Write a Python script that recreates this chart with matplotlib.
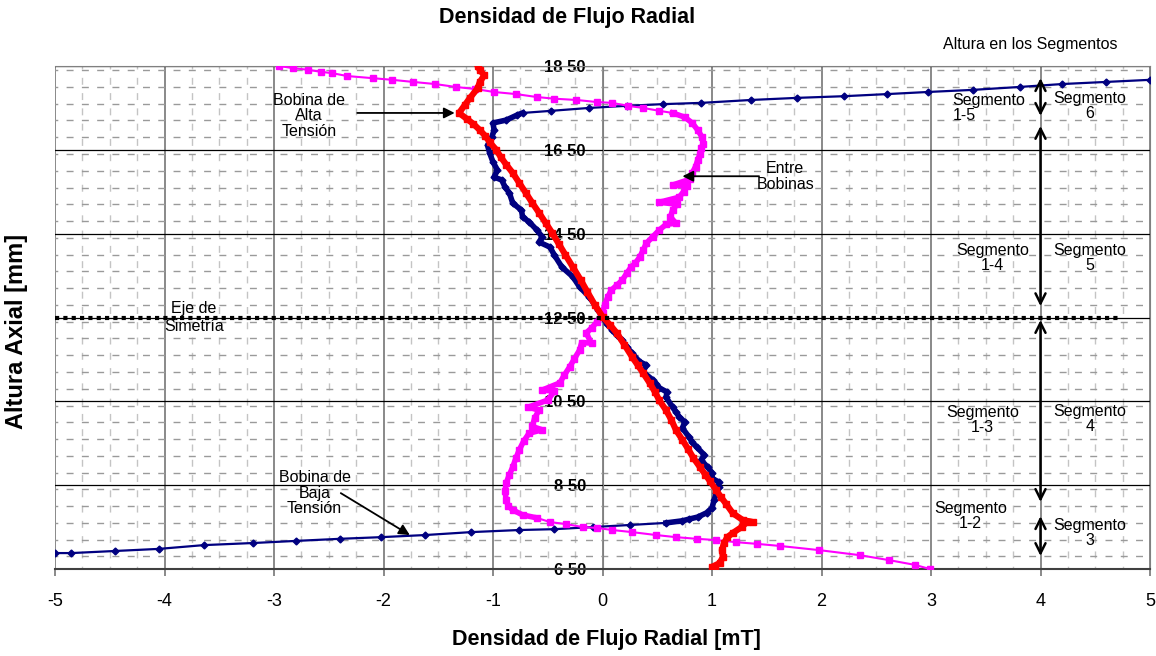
import matplotlib
matplotlib.use('Agg')
import matplotlib.pyplot as plt
from matplotlib.ticker import MultipleLocator, FixedLocator

plt.rcParams['font.family'] = ['Liberation Sans', 'DejaVu Sans']

# blue series (bottom to top)
blue_x = [-5.0, -4.85, -4.45, -4.05, -3.64, -3.19, -2.80, -2.40, -2.02, -1.62, -1.20, -0.76,
          -0.44, -0.09, 0.25, 0.58, 0.73, 0.79, 0.87, 0.95, 1.0, 1.02, 1.04, 1.06, 1.06, 1.0,
          1.0, 0.96, 0.90, 0.93, 0.86, 0.82, 0.79, 0.73, 0.75, 0.70, 0.67, 0.64, 0.58, 0.59,
          0.52, 0.49, 0.46, 0.37, 0.40, 0.34, 0.27, 0.22, 0.18, 0.13, 0.09, 0.04, 0.0, -0.04,
          -0.12, -0.21, -0.27, -0.37, -0.44, -0.48, -0.58, -0.55, -0.60, -0.67, -0.73, -0.74,
          -0.82, -0.85, -0.89, -0.92, -0.99, -0.96, -1.0, -1.03, -1.05, -1.01, -0.99, -1.0,
          -0.88, -0.78, -0.73, -0.47, -0.12, 0.22, 0.55, 0.90, 1.36, 1.78, 2.21, 2.60, 2.97,
          3.38, 3.81, 4.20, 4.60, 5.0]
blue_y = [688, 688, 693, 698, 707, 712, 717, 722, 726, 731, 738, 743,
          745, 750, 755, 760, 765, 769, 774, 784, 796, 815, 831, 845, 858, 866,
          879, 893, 910, 922, 941, 952, 965, 986, 1001, 1013, 1025, 1036, 1060, 1072,
          1082, 1092, 1101, 1120, 1137, 1144, 1165, 1180, 1196, 1208, 1220, 1235, 1250, 1268,
          1299, 1323, 1347, 1370, 1399, 1418, 1430, 1442, 1459, 1478, 1490, 1506,
          1523, 1547, 1561, 1578, 1585, 1602, 1621, 1642, 1661, 1681, 1697, 1714,
          1721, 1733, 1738, 1743, 1750, 1755, 1759, 1762, 1769, 1774, 1778, 1783, 1788,
          1793, 1800, 1807, 1812, 1817]

# red series (bottom to top)
red_x = [1.03, 1.0, 1.07, 1.10, 1.09, 1.11, 1.14, 1.19, 1.27, 1.32, 1.37, 1.28, 1.19, 1.13,
         1.08, 1.04, 0.98, 0.94, 0.89, 0.83, 0.78, 0.73, 0.67, 0.63, 0.58, 0.52, 0.48, 0.43,
         0.37, 0.32, 0.27, 0.20, 0.13, 0.07, 0.0, -0.07, -0.14, -0.20, -0.27, -0.34, -0.40,
         -0.46, -0.52, -0.58, -0.64, -0.70, -0.76, -0.82, -0.88, -0.93, -0.97, -1.03, -1.07,
         -1.12, -1.18, -1.24, -1.31, -1.26, -1.21, -1.14, -1.12, -1.08, -1.12, -1.14]
red_y = [650, 655, 664, 679, 695, 712, 726, 736, 750, 762, 762, 767, 783, 805,
         822, 838, 860, 875, 893, 915, 937, 958, 982, 1005, 1029, 1052, 1072, 1094,
         1118, 1137, 1156, 1185, 1213, 1232, 1252, 1280, 1312, 1340, 1370, 1400, 1426,
         1452, 1476, 1500, 1523, 1547, 1571, 1595, 1615, 1633, 1650, 1668, 1683,
         1697, 1712, 1724, 1738, 1756, 1774, 1797, 1812, 1828, 1840, 1850]

# magenta series (top to bottom)
mag_x = [-2.95, -2.83, -2.69, -2.57, -2.47, -2.33, -2.10, -1.92, -1.73, -1.53, -1.34, -1.16,
         -0.99, -0.79, -0.60, -0.44, -0.24, -0.05, 0.09, 0.23, 0.37, 0.52, 0.64, 0.75, 0.82,
         0.87, 0.91, 0.92, 0.90, 0.89, 0.87, 0.85, 0.82, 0.80, 0.64, 0.77, 0.74, 0.70, 0.52,
         0.68, 0.64, 0.62, 0.67, 0.58, 0.52, 0.46, 0.40, 0.37, 0.34, 0.30, 0.26, 0.22, 0.18,
         0.13, 0.08, 0.05, 0.02, 0.0, -0.05, -0.10, -0.15, -0.10, -0.19, -0.21, -0.26, -0.30,
         -0.35, -0.39, -0.55, -0.44, -0.50, -0.68, -0.58, -0.62, -0.64, -0.55, -0.67, -0.72,
         -0.76, -0.79, -0.82, -0.85, -0.88, -0.89, -0.88, -0.86, -0.82, -0.73, -0.60, -0.48,
         -0.33, -0.18, -0.05, 0.09, 0.27, 0.49, 0.67, 0.86, 1.04, 1.22, 1.41, 1.62, 1.98,
         2.35, 2.62, 2.85, 2.99]
mag_y = [1850, 1845, 1841, 1836, 1833, 1826, 1821, 1817, 1812, 1807, 1800, 1795,
         1788, 1783, 1776, 1772, 1769, 1764, 1762, 1755, 1750, 1743, 1738, 1728, 1714,
         1697, 1680, 1665, 1654, 1640, 1626, 1610, 1595, 1580, 1566, 1563, 1550, 1537, 1525,
         1520, 1506, 1490, 1475, 1472, 1459, 1443, 1427, 1410, 1394, 1380, 1370, 1355, 1339,
         1327, 1315, 1300, 1280, 1261, 1240, 1225, 1213, 1189, 1190, 1172, 1150, 1132,
         1112, 1094, 1077, 1074, 1053, 1036, 1029, 1010, 990, 982, 974, 955,
         934, 915, 893, 875, 855, 835, 815, 800, 791, 779, 772, 762,
         757, 750, 748, 743, 738, 731, 726, 722, 719, 714, 710, 705, 695,
         683, 671, 660, 650]

y_ticks = [650, 850, 1050, 1250, 1450, 1650, 1850]
y_tick_labels = ['6 50', '8 50', '10 50', '12 50', '14 50', '16 50', '18 50']
x_ticks = [-5, -4, -3, -2, -1, 0, 1, 2, 3, 4, 5]

# segment arrows at x = 4: (top, bottom)
seg_arrows = [(1821, 1731), (1707, 1277), (1244, 810), (776, 681)]
seg_labels = [
    ('Segmento\n1-5', 3.53, 1750, 'left'),
    ('Segmento\n6', 4.45, 1755, 'center'),
    ('Segmento\n1-4', 3.56, 1392, 'center'),
    ('Segmento\n5', 4.45, 1392, 'center'),
    ('Segmento\n1-3', 3.47, 1005, 'center'),
    ('Segmento\n4', 4.45, 1008, 'center'),
    ('Segmento\n1-2', 3.36, 776, 'center'),
    ('Segmento\n3', 4.45, 736, 'center'),
]

fig = plt.figure(figsize=(11.56, 6.56), dpi=100)
ax = fig.add_axes([55 / 1156, 87 / 656, 1095 / 1156, 503 / 656])

ax.set_xlim(-5, 5)
ax.set_ylim(650, 1850)

# grid
ax.xaxis.set_major_locator(FixedLocator(x_ticks))
ax.xaxis.set_minor_locator(MultipleLocator(0.25))
ax.yaxis.set_major_locator(FixedLocator(y_ticks))
ax.yaxis.set_minor_locator(MultipleLocator(40))
ax.set_axisbelow(True)
ax.grid(which='minor', axis='x', color='#c4c4c4', linestyle=(3, (5, 6)), linewidth=1.0)
ax.grid(which='minor', axis='y', color='#9a9a9a', linestyle=(3, (5, 6)), linewidth=1.0)
ax.grid(which='major', axis='x', color='#808080', linewidth=1.3)
ax.grid(which='major', axis='y', color='black', linewidth=0.9)

# curves (dense measurement stretches drawn heavier, as the overlapping markers look)
ax.plot(blue_x, blue_y, color='#000080', linewidth=1.6, marker='D', markersize=3.5, zorder=3)
ax.plot(blue_x[15:81], blue_y[15:81], color='#000080', linewidth=4, zorder=3)
ax.plot(mag_x, mag_y, color='#ff00ff', linewidth=1.5, marker='s', markersize=5, zorder=4)
ax.plot(mag_x[22:89], mag_y[22:89], color='#ff00ff', linewidth=4, zorder=4)
ax.plot(red_x, red_y, color='#ff0000', linewidth=4.5, marker='s', markersize=4, zorder=5)

# symmetry axis
ax.plot([-5, 4.72], [1250, 1250], color='black', linewidth=3, linestyle=(0, (1, 1)),
        dash_capstyle='butt', zorder=6)
ax.text(-3.73, 1250, 'Eje de\nSimetría', ha='center', va='center', fontsize=11.5, zorder=7)

# annotations
arrow_kw = dict(arrowstyle='-|>', color='black', lw=1.3, mutation_scale=16, shrinkA=0, shrinkB=0)
ax.annotate('', xy=(-1.35, 1738), xytext=(-2.24, 1738), arrowprops=arrow_kw, zorder=7)
ax.text(-2.68, 1731, 'Bobina de\nAlta\nTensión', ha='center', va='center', fontsize=11.5,
        linespacing=1.05)
ax.annotate('', xy=(0.73, 1587), xytext=(1.43, 1587), arrowprops=arrow_kw, zorder=7)
ax.text(1.67, 1587, 'Entre\nBobinas', ha='center', va='center', fontsize=11.5, linespacing=1.05)
ax.annotate('', xy=(-1.76, 731), xytext=(-2.39, 831), arrowprops=arrow_kw, zorder=7)
ax.text(-2.63, 831, 'Bobina de\nBaja\nTensión', ha='center', va='center', fontsize=11.5,
        linespacing=1.05)

for top, bottom in seg_arrows:
    ax.annotate('', xy=(4, top), xytext=(4, bottom),
                arrowprops=dict(arrowstyle='<->', color='black', lw=1.8, mutation_scale=18,
                                shrinkA=0, shrinkB=0), zorder=7)
for txt, x, y, al in seg_labels:
    ax.text(x, y, txt, ha='center', va='center', fontsize=11.5, multialignment=al,
            linespacing=1.05, zorder=7)

# axes styling
ax.spines['left'].set_position(('data', 0))
ax.spines['left'].set_color('#808080')
ax.spines['top'].set_color('#808080')
ax.spines['right'].set_color('#808080')
ax.spines['bottom'].set_color('#404040')
ax.spines['bottom'].set_linewidth(1.5)
ax.set_xticklabels([str(v) for v in x_ticks], fontsize=13)
ax.set_yticklabels(y_tick_labels, fontsize=12, fontweight='bold')
ax.tick_params(axis='x', which='major', length=5, width=1.3, color='#808080', pad=12)
ax.tick_params(axis='x', which='minor', length=0)
ax.tick_params(axis='y', which='both', length=0, pad=12)

fig.text(567 / 1156, 1 - 18 / 656, 'Densidad de Flujo Radial', ha='center', va='center',
         fontsize=15.5, fontweight='bold')
fig.text(606 / 1156, 1 - 640 / 656, 'Densidad de Flujo Radial [mT]', ha='center', va='center',
         fontsize=15.5, fontweight='bold')
fig.text(17 / 1156, 1 - 331 / 656, 'Altura Axial [mm]', ha='center', va='center', rotation=90,
         fontsize=17, fontweight='bold')
fig.text(1030 / 1156, 1 - 44 / 656, 'Altura en los Segmentos', ha='center', va='center',
         fontsize=11.5)

fig.savefig('out.png', dpi=100)
